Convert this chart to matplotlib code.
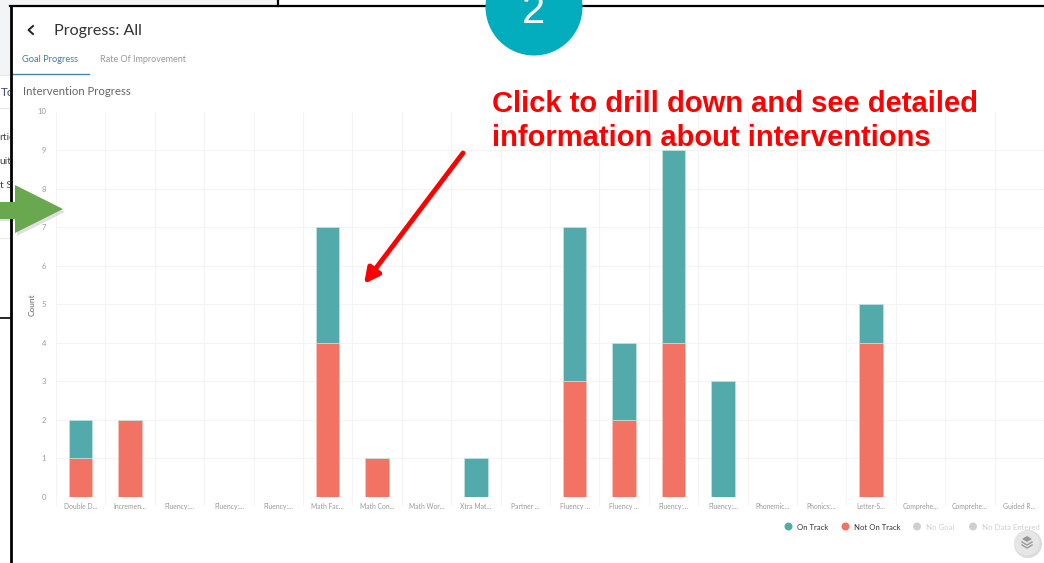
import matplotlib
matplotlib.use('Agg')
import matplotlib.pyplot as plt
from matplotlib.patches import Circle, Polygon, Rectangle

W, H = 1044, 563

categories = ['Double D...', 'Incremen...', 'Fluency:...', 'Fluency:...', 'Fluency:...',
              'Math Fac...', 'Math Con...', 'Math Wor...', 'Xtra Mat...', 'Partner ...',
              'Fluency ...', 'Fluency ...', 'Fluency:...', 'Fluency:...', 'Phonemic...',
              'Phonics:...', 'Letter-S...', 'Comprehe...', 'Comprehe...', 'Guided R...']
not_on_track = [1, 2, 0, 0, 0, 4, 1, 0, 0, 0, 3, 2, 4, 0, 0, 0, 4, 0, 0, 0]
on_track = [1, 0, 0, 0, 0, 3, 0, 0, 1, 0, 4, 2, 5, 3, 0, 0, 1, 0, 0, 0]
y_ticks = [0, 1, 2, 3, 4, 5, 6, 7, 8, 9, 10]

TEAL = '#52abaa'
CORAL = '#f27263'
GRID = '#f4f4f4'
GREY = '#9a9a9a'

plt.rcParams['font.family'] = ['Lato', 'DejaVu Sans']

fig = plt.figure(figsize=(W / 100, H / 100), dpi=100)

# chart area, placed by pixel
ax = fig.add_axes([56 / W, 1 - 497 / H, 988 / W, 385.5 / H])
x = list(range(len(categories)))
ax.bar(x, not_on_track, width=0.47, color=CORAL, edgecolor='#f9c4bd', linewidth=0.5, zorder=3)
ax.bar(x, on_track, width=0.47, bottom=not_on_track, color=TEAL, edgecolor='#c5e4e3', linewidth=0.5, zorder=3)
ax.set_xlim(-0.5, 19.5)
ax.set_ylim(0, 10)
ax.set_yticks(y_ticks)
ax.set_xticks(x)
ax.set_xticklabels(categories, fontsize=4.9, color=GREY)
ax.tick_params(axis='x', length=0, pad=4)
ax.tick_params(axis='y', length=0, pad=7, labelsize=5.5, labelcolor=GREY)
ax.set_xticks([i - 0.5 for i in range(21)], minor=True)
ax.tick_params(axis='x', which='minor', length=6, color=GRID, width=0.8)
ax.grid(True, which='minor', axis='x', color=GRID, linewidth=0.8, zorder=0)
ax.grid(True, which='major', axis='y', color=GRID, linewidth=0.8, zorder=0)
ax.grid(False, which='major', axis='x')
for s in ax.spines.values():
    s.set_visible(False)
ax.set_ylabel('Count', fontsize=6, color='#666666', labelpad=1)

# overlay in pixel coordinates for the screenshot furniture
ov = fig.add_axes([0, 0, 1, 1], facecolor='none')
ov.set_xlim(0, W)
ov.set_ylim(H, 0)
ov.axis('off')

ov.add_patch(Rectangle((0, 0), 278, 6, color='#f3f4f6', lw=0, zorder=1))
ov.add_patch(Rectangle((0, 0), 10, 75, color='#f3f4f6', lw=0, zorder=1))
ov.plot([0, 10], [75, 75], color='#e6e6e6', lw=0.8)
ov.plot([0, 10], [108, 108], color='#e6e6e6', lw=0.8)
ov.plot([0, 10], [238, 238], color='#e6e6e6', lw=0.8)
ov.plot([0, 10], [318, 318], color='black', lw=1.2)
ov.plot([278, 278], [0, 6], color='black', lw=1.6)
ov.plot([10, 1044], [6, 6], color='black', lw=1.6)

# page text peeking out from behind the panel
clip = Rectangle((0, 0), 10, H, transform=ov.transData)
for tx, ty, label, size, col in [(1, 93, 'To', 8.5, '#3d4a7a'), (-1, 137, 'rtie', 7.5, '#444444'),
                                 (-1, 162, 'uito', 7.5, '#444444'), (0, 186, 't S', 7.5, '#444444')]:
    t = ov.text(tx, ty, label, fontsize=size, color=col, va='center')
    t.set_clip_path(clip)
    t.set_clip_on(True)

ov.plot([10.5, 10.5], [6, 563], color='black', lw=2, zorder=3)

# header
ov.plot([33, 28.5, 33], [26, 30, 34], color='#222222', lw=1.4)
ov.text(54, 30.5, 'Progress: All', fontsize=11.6, color='#333333', va='center')
ov.text(21.5, 59, 'Goal Progress', fontsize=6.7, color='#3f7f9f', va='center')
ov.text(100, 59, 'Rate Of Improvement', fontsize=6.5, color='#999999', va='center')
ov.plot([12, 89], [74, 74], color='#4a86a8', lw=1)
ov.text(23, 91.5, 'Intervention Progress', fontsize=8.2, color='#666666', va='center')

# green arrow with a soft shadow
ov.add_patch(Polygon([(0, 204), (17, 204), (17, 188), (65, 212), (17, 236), (17, 221), (0, 221)],
                     color='#000000', alpha=0.12, lw=0, zorder=3))
ov.add_patch(Rectangle((0, 202), 15, 17, color='#6aa84f', lw=0, zorder=4))
ov.add_patch(Polygon([(15, 185), (63, 209), (15, 233)], color='#6aa84f', lw=0, zorder=4))

# numbered badge
ov.add_patch(Circle((534, 7), 48.5, color='#03adbd', lw=0, zorder=4))
ov.text(533.5, 12, '2', fontsize=30, color='white', ha='center', va='center',
        family='Liberation Sans', zorder=5)

# callout
ov.text(492, 104.5, 'Click to drill down and see detailed', fontsize=21, color='#ff0000',
        weight='bold', family='Liberation Sans', va='center')
ov.text(492, 138.5, 'information about interventions', fontsize=21, color='#ff0000',
        weight='bold', family='Liberation Sans', va='center')
ov.annotate('', xy=(364, 284), xytext=(463, 153),
            arrowprops=dict(arrowstyle='-|>,head_length=0.9,head_width=0.45', color='#ff0000',
                            lw=3.5, shrinkA=0, shrinkB=0))

# legend
legend_items = [(788.5, 'On Track', TEAL, '#333333'), (845.5, 'Not On Track', CORAL, '#333333'),
                (917, 'No Goal', '#cfcfcf', '#cfcfcf'), (973, 'No Data Entered', '#cfcfcf', '#cfcfcf')]
for lx, label, c, tc in legend_items:
    ov.add_patch(Circle((lx, 526.5), 4, color=c, lw=0))
    ov.text(lx + 8.5, 527, label, fontsize=5.6, color=tc, va='center')

# floating layers button
ov.add_patch(Circle((1028, 544), 14, color='#bbbbbb', alpha=0.5, lw=0, zorder=4))
ov.add_patch(Circle((1027, 543), 12.5, color='#e6e6e6', lw=0, zorder=5))
ov.add_patch(Polygon([(1022, 539), (1027, 536), (1032, 539), (1027, 542)], color='#999999', lw=0, zorder=6))
ov.plot([1022, 1027, 1032], [542, 545, 542], color='#999999', lw=1, zorder=6)
ov.plot([1022, 1027, 1032], [545, 548, 545], color='#999999', lw=1, zorder=6)

fig.savefig('out.png', dpi=100)
